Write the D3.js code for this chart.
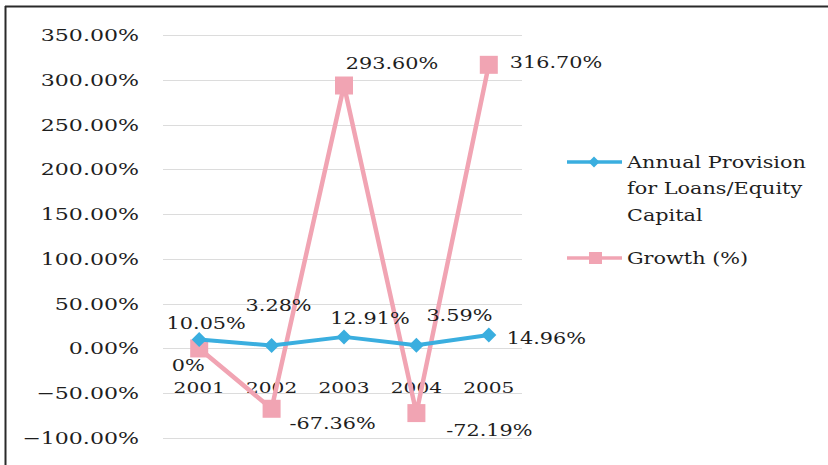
<!DOCTYPE html>
<html>
<head>
<meta charset="utf-8">
<script src="https://cdn.jsdelivr.net/npm/d3@7"></script>
<style>
  html, body { margin: 0; padding: 0; background: #fff; }
  svg { display: block; }
  text { font-family: "DejaVu Serif", "Liberation Serif", serif; fill: #1e1e1e; }
</style>
</head>
<body>
<svg id="chart" width="828" height="465"></svg>
<script>
// Chart data
const years = ["2001", "2002", "2003", "2004", "2005"];
const provisionRatio = [10.05, 3.28, 12.91, 3.59, 14.96];
const growth = [0, -67.36, 293.60, -72.19, 316.70];
const provisionLabels = ["10.05%", "3.28%", "12.91%", "3.59%", "14.96%"];
const growthLabels = ["0%", "-67.36%", "293.60%", "-72.19%", "316.70%"];
const yTicks = [-100, -50, 0, 50, 100, 150, 200, 250, 300, 350];
const seriesNames = ["Annual Provision for Loans/Equity Capital", "Growth (%)"];
const legendLines = [["Annual Provision", "for Loans/Equity", "Capital"], ["Growth (%)"]];

// Label placement relative to each point: [dx, dy, anchor]
const provisionLabelPos = [[7, -16, "middle"], [7, -40, "middle"], [26, -18, "middle"], [43, -30, "middle"], [18, 3, "start"]];
const growthLabelPos = [[-11, 17, "middle"], [61, 15, "middle"], [48, -22, "middle"], [73, 17, "middle"], [21, -2, "start"]];

const BLUE = "#3aaedf";
const PINK = "#f1a4b3";
const SX = 1.3; // horizontal stretch of the serif lettering

const svg = d3.select("#chart");

const x = d3.scaleBand().domain(years).range([163, 525]).padding(0);
const y = d3.scaleLinear().domain([-100, 350]).range([438, 35]);
const cx = d => x(d) + x.bandwidth() / 2;

function label(g, px, py, str, anchor, size) {
  return g.append("text")
    .attr("transform", `translate(${px},${py}) scale(${SX},1)`)
    .attr("text-anchor", anchor)
    .attr("dy", "0.35em")
    .style("font-size", size + "px")
    .text(str);
}

// Frame
svg.append("line").attr("x1", 5).attr("x2", 828).attr("y1", 6.5).attr("y2", 6.5)
  .attr("stroke", "#2a2a2a").attr("stroke-width", 2);
svg.append("line").attr("x1", 5.5).attr("x2", 5.5).attr("y1", 6).attr("y2", 465)
  .attr("stroke", "#2a2a2a").attr("stroke-width", 2);

// Gridlines
svg.append("g").selectAll("line").data(yTicks).join("line")
  .attr("x1", 163).attr("x2", 522)
  .attr("y1", d => Math.round(y(d)) + 0.5).attr("y2", d => Math.round(y(d)) + 0.5)
  .attr("stroke", "#dcdcdc").attr("stroke-width", 1);

// Y axis tick labels
const yAxis = svg.append("g");
yTicks.forEach(t => label(yAxis, 139, y(t), d3.format(".2f")(t) + "%", "end", 17));

// Category labels just below the zero line
const xAxis = svg.append("g");
years.forEach(yr => label(xAxis, cx(yr), y(0) + 39, yr, "middle", 15.5));

// Growth series
const lineGen = d3.line().x(d => cx(d.year)).y(d => y(d.v));
const growthPts = years.map((yr, i) => ({ year: yr, v: growth[i] }));
const provPts = years.map((yr, i) => ({ year: yr, v: provisionRatio[i] }));

svg.append("path").datum(growthPts).attr("d", lineGen)
  .attr("fill", "none").attr("stroke", PINK).attr("stroke-width", 4.5).attr("stroke-linejoin", "round");
svg.append("g").selectAll("rect").data(growthPts).join("rect")
  .attr("x", d => cx(d.year) - 9).attr("y", d => y(d.v) - 9)
  .attr("width", 18).attr("height", 18).attr("fill", PINK);

// Provision ratio series
svg.append("path").datum(provPts).attr("d", lineGen)
  .attr("fill", "none").attr("stroke", BLUE).attr("stroke-width", 4).attr("stroke-linejoin", "round");
const diamond = (px, py, r) => `M${px},${py - r}L${px + r},${py}L${px},${py + r}L${px - r},${py}Z`;
svg.append("g").selectAll("path").data(provPts).join("path")
  .attr("d", d => diamond(cx(d.year), y(d.v), 7.5)).attr("fill", BLUE);

// Data labels
const dl = svg.append("g");
provPts.forEach((d, i) => {
  const [dx, dy, a] = provisionLabelPos[i];
  label(dl, cx(d.year) + dx, y(d.v) + dy, provisionLabels[i], a, 16);
});
growthPts.forEach((d, i) => {
  const [dx, dy, a] = growthLabelPos[i];
  label(dl, cx(d.year) + dx, y(d.v) + dy, growthLabels[i], a, 16);
});

// Legend
const legend = svg.append("g");
const legendY = [162, 258];
[BLUE, PINK].forEach((c, i) => {
  legend.append("line").attr("x1", 567).attr("x2", 622).attr("y1", legendY[i]).attr("y2", legendY[i])
    .attr("stroke", c).attr("stroke-width", 3.5);
  if (i === 0) {
    legend.append("path").attr("d", diamond(594, legendY[i], 5.5)).attr("fill", c);
  } else {
    legend.append("rect").attr("x", 589).attr("y", legendY[i] - 6).attr("width", 13).attr("height", 12).attr("fill", c);
  }
  legendLines[i].forEach((ln, j) => label(legend, 627, legendY[i] + j * 26.5, ln, "start", 16));
});
</script>
</body>
</html>
